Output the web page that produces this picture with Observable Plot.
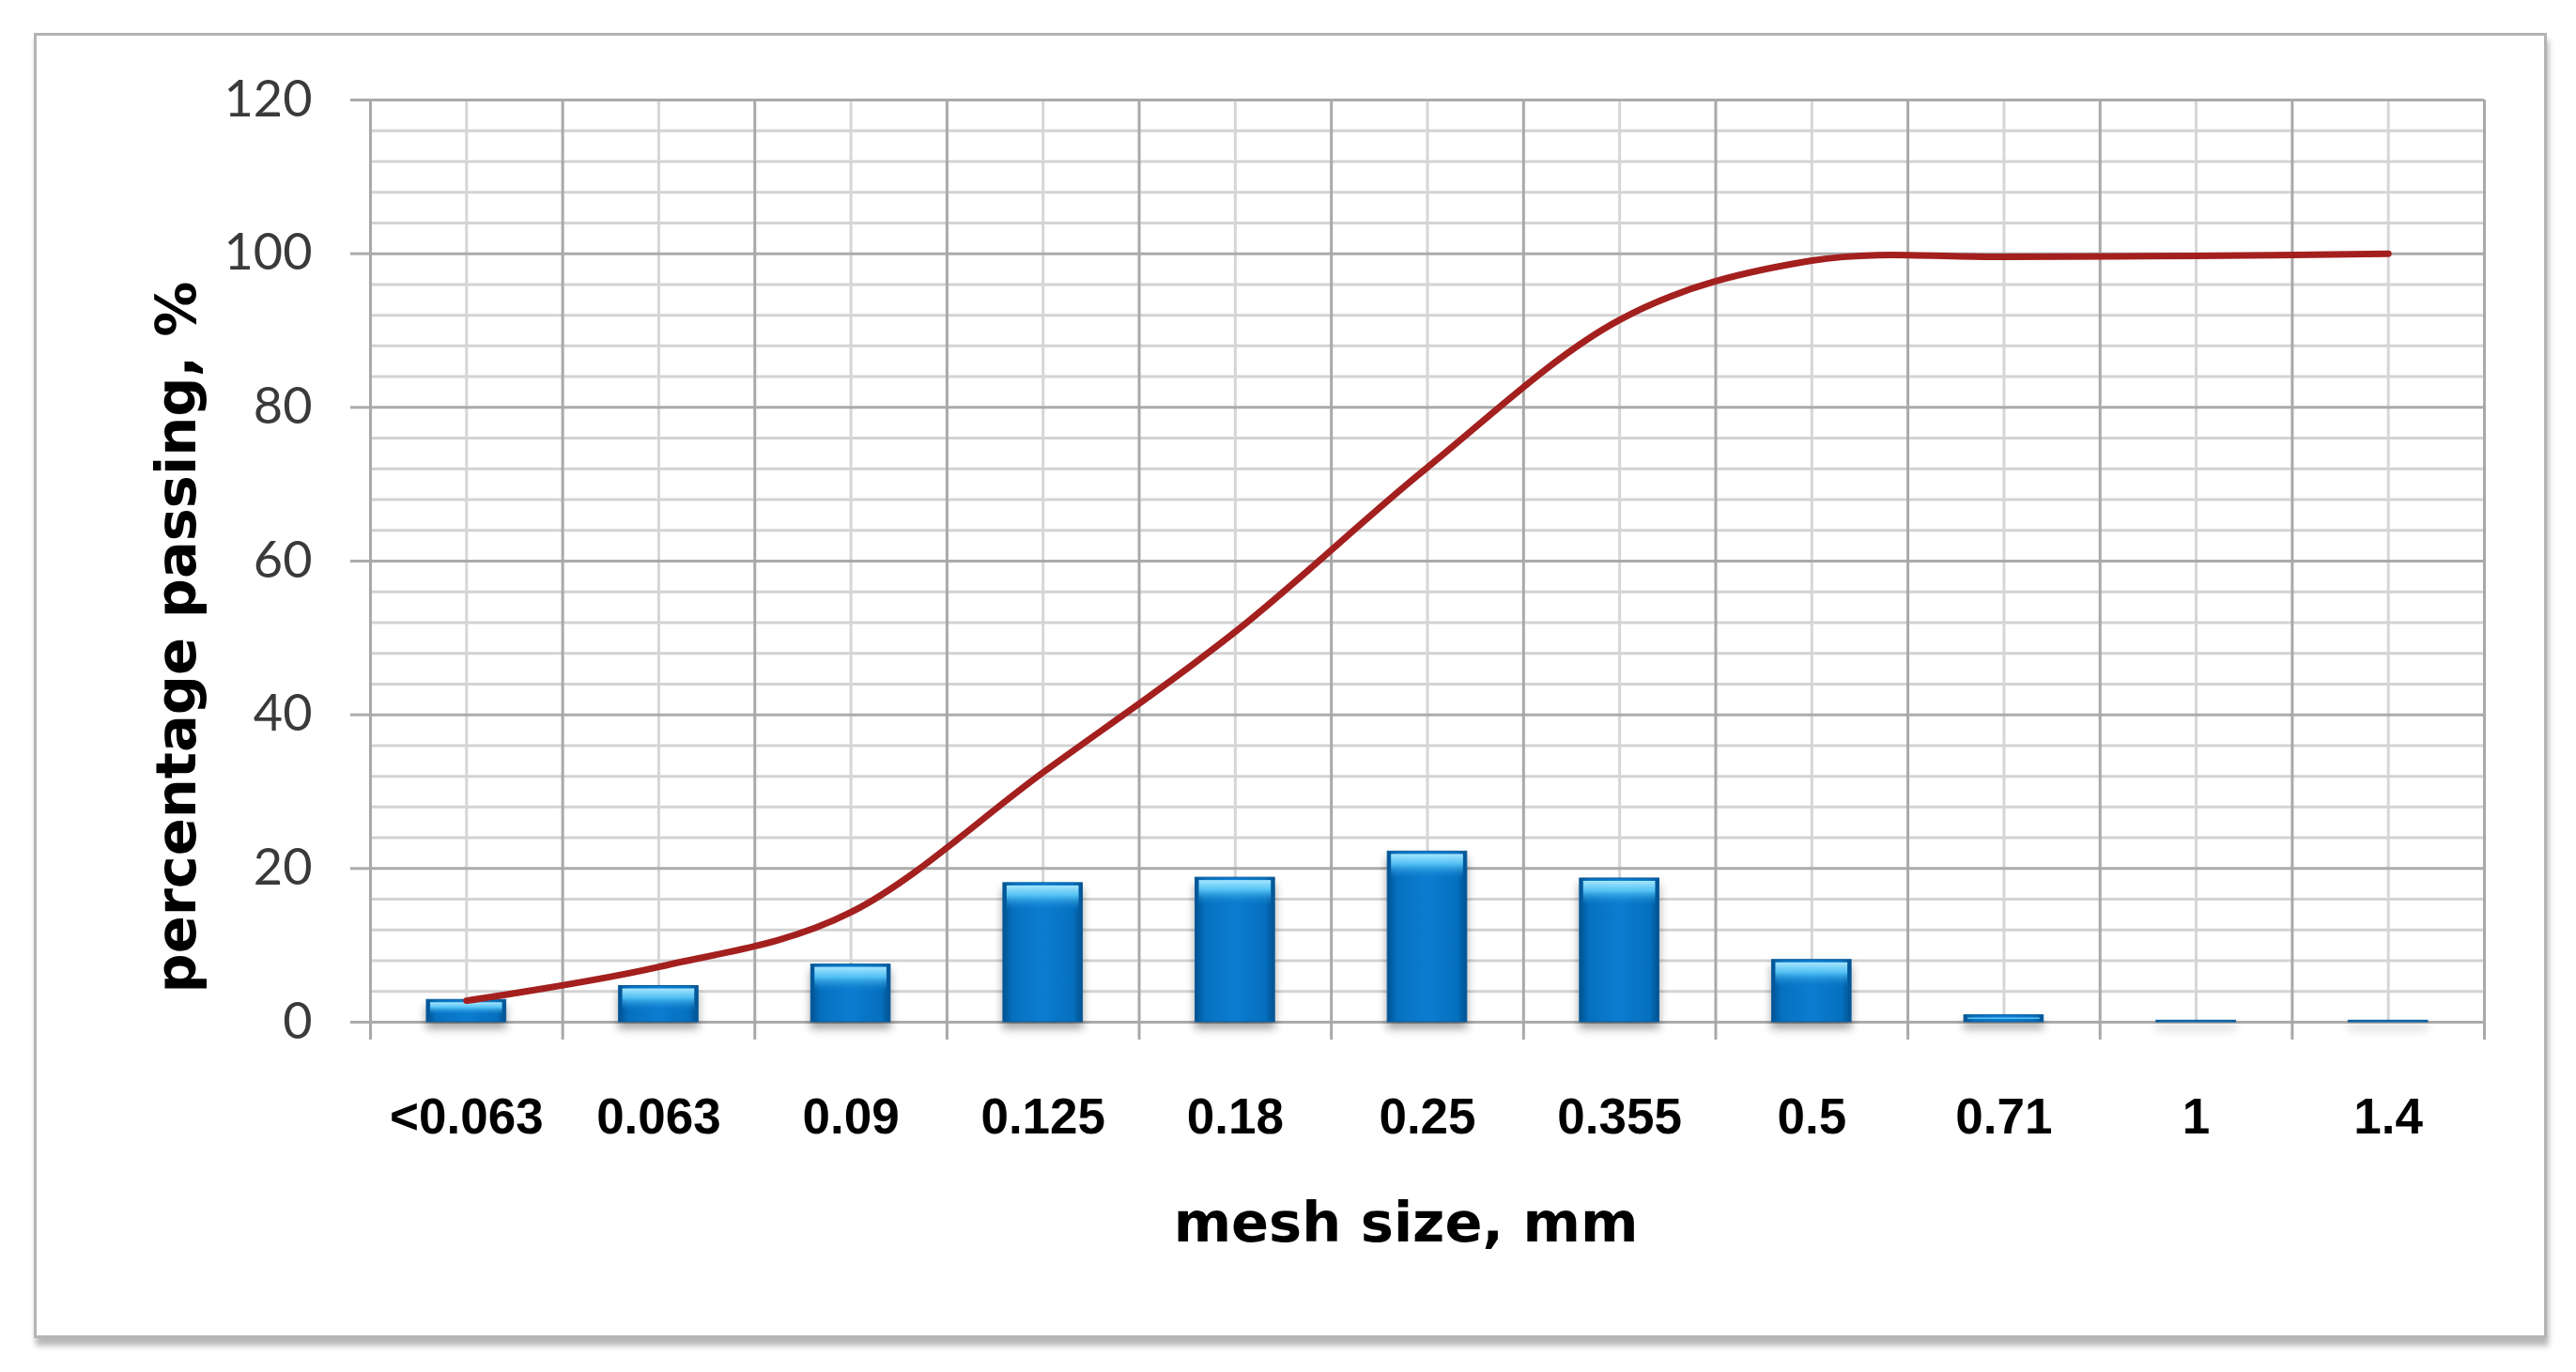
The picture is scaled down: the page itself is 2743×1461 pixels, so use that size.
<!DOCTYPE html>
<html>
<head>
<meta charset="utf-8">
<script src="https://cdn.jsdelivr.net/npm/d3@7"></script>
<script src="https://cdn.jsdelivr.net/npm/@observablehq/plot@0.6"></script>
<style>
  html, body { margin: 0; padding: 0; background: #ffffff; }
  #wrap { position: relative; width: 2743px; height: 1461px; overflow: hidden; }
  #box { position: absolute; left: 36px; top: 35px; width: 2676px; height: 1390px; box-sizing: border-box;
         border: 3px solid #b4b4b4; box-shadow: 2px 8px 6px rgba(0,0,0,0.28); background: #ffffff; }
  #chart { position: absolute; left: 0; top: 0; }
</style>
</head>
<body>
<div id="wrap"><div id="box"></div><div id="chart"></div></div>
<script>
// ---- data ----
const meshSizes = ["<0.063", "0.063", "0.09", "0.125", "0.18", "0.25", "0.355", "0.5", "0.71", "1", "1.4"];
const retained  = [2.9, 4.7, 7.5, 18.1, 18.8, 22.2, 18.7, 8.1, 0.9, 0.2, 0.2];      // bars, %
const passing   = [2.8, 7.2, 14.3, 32.5, 50.8, 72.2, 91.4, 99.1, 99.6, 99.7, 100]; // line, %
const yTicks    = [0, 20, 40, 60, 80, 100, 120];
const xTitle = "mesh size, mm";
const yTitle = "percentage passing, %";

const data = meshSizes.map((m, i) => ({i, pos: i + 0.5, mesh: m, retained: retained[i], passing: passing[i]}));
const boundaries = d3.range(0, meshSizes.length + 1);
const centers = data.map(d => d.pos);
const yMinor = d3.range(4, 120, 4).filter(v => v % 20 !== 0);

const titleFont = "'DejaVu Sans', Verdana, sans-serif";
const tickFont = "'Liberation Sans', Arial, sans-serif";

const svg = Plot.plot({
  width: 2743,
  height: 1461,
  marginLeft: 394,
  marginRight: 98,
  marginTop: 106,
  marginBottom: 373,
  x: {domain: [0, meshSizes.length], axis: null},
  y: {domain: [0, 120], axis: null},
  style: {background: "transparent", overflow: "visible"},
  marks: [
    Plot.gridY(yMinor, {stroke: "#d3d3d3", strokeOpacity: 1, strokeWidth: 3}),
    Plot.gridX(centers, {stroke: "#d6d6d6", strokeOpacity: 1, strokeWidth: 3}),
    Plot.gridY(yTicks, {stroke: "#ababab", strokeOpacity: 1, strokeWidth: 3}),
    Plot.ruleX(boundaries, {stroke: "#a9a9a9", strokeWidth: 3, insetBottom: -19}),
    Plot.axisY(yTicks, {tickSize: 21, tickPadding: 41, stroke: "#ababab", strokeWidth: 3,
      fill: "#3a3a3a", fontSize: 54, fontFamily: "Lato, 'Open Sans', sans-serif", label: null}),
    // bar bodies
    Plot.rectY(data, {x1: d => d.i, x2: d => d.i + 1, y: "retained",
      insetLeft: 60, insetRight: 60, fill: "url(#barBody)", stroke: "#0a5d9e", strokeWidth: 1}),
    // bar top highlights
    Plot.rectY(data, {x1: d => d.i, x2: d => d.i + 1,
      y1: d => d.retained, y2: d => Math.max(d.retained - 3.6, d.retained * 0.3),
      insetLeft: 64, insetRight: 64, insetTop: 3, fill: "url(#barHL)"}),
    // cumulative passing curve (smoothed like the spreadsheet line)
    Plot.line(data, {x: "pos", y: "passing", curve: "cardinal", stroke: "#a3201f", strokeWidth: 7,
      strokeLinecap: "round", strokeLinejoin: "round"}),
    // x tick labels
    Plot.text(data, {x: "pos", text: "mesh", frameAnchor: "bottom", dy: 102, lineAnchor: "middle",
      fontSize: 53, fontWeight: "bold", fontFamily: tickFont, fill: "#000000"}),
    // axis titles
    Plot.text([xTitle], {frameAnchor: "bottom", dy: 215, dx: -23, lineAnchor: "middle", textAnchor: "middle",
      fontSize: 59, fontWeight: "bold", fontFamily: titleFont, fill: "#000000"}),
    Plot.text([yTitle], {frameAnchor: "left", rotate: -90, dx: -205, dy: 81, lineAnchor: "middle", textAnchor: "middle",
      fontSize: 59, fontWeight: "bold", fontFamily: titleFont, fill: "#000000"})
  ]
});

// gradients for the bevelled bars
const defs = d3.select(svg).insert("defs", ":first-child");
const body = defs.append("linearGradient").attr("id", "barBody").attr("x1", 0).attr("x2", 1).attr("y1", 0).attr("y2", 0);
[["0%", "#00518f"], ["12%", "#0670bf"], ["50%", "#0b7dd0"], ["88%", "#0670bf"], ["100%", "#00518f"]]
  .forEach(([o, c]) => body.append("stop").attr("offset", o).attr("stop-color", c));
const hl = defs.append("linearGradient").attr("id", "barHL").attr("x1", 0).attr("x2", 0).attr("y1", 0).attr("y2", 1);
[["0%", "#a6e6ff", 1], ["40%", "#5ccaf9", 0.9], ["100%", "#0b7dd0", 0]]
  .forEach(([o, c, a]) => hl.append("stop").attr("offset", o).attr("stop-color", c).attr("stop-opacity", a));

const rectGroups = d3.select(svg).selectAll('g[aria-label="rect"]').nodes();
if (rectGroups.length) rectGroups[0].style.filter = "drop-shadow(0px 7px 5px rgba(0,0,0,0.35))";

document.getElementById("chart").appendChild(svg);
</script>
</body>
</html>
